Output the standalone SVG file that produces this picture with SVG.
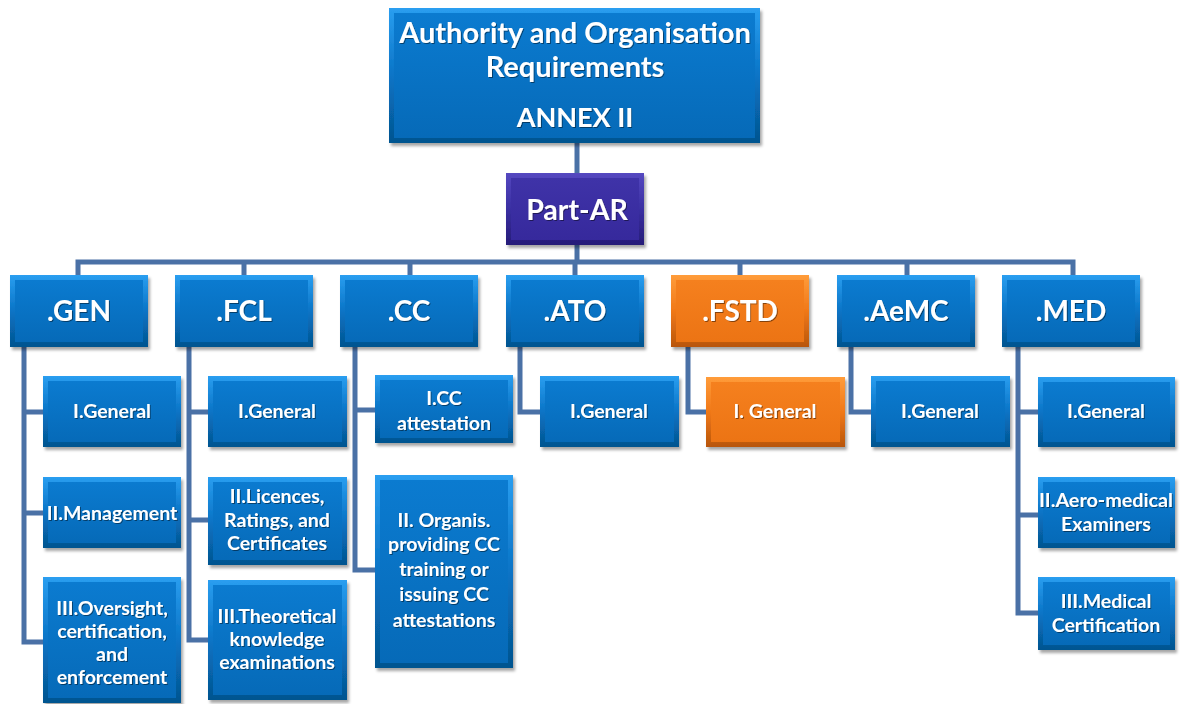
<svg xmlns="http://www.w3.org/2000/svg" width="1180" height="704" viewBox="0 0 1180 704">
<defs>
<linearGradient id="gb" x1="0" y1="0" x2="0" y2="1"><stop offset="0" stop-color="#2a9ef0"/><stop offset="0.5" stop-color="#0a74c6"/><stop offset="1" stop-color="#04548f"/></linearGradient>
<linearGradient id="gbi" x1="0" y1="0" x2="0" y2="1"><stop offset="0" stop-color="#0b7bd0"/><stop offset="1" stop-color="#066ab8"/></linearGradient>
<linearGradient id="go" x1="0" y1="0" x2="0" y2="1"><stop offset="0" stop-color="#ff9c3a"/><stop offset="0.5" stop-color="#f07818"/><stop offset="1" stop-color="#b8560c"/></linearGradient>
<linearGradient id="goi" x1="0" y1="0" x2="0" y2="1"><stop offset="0" stop-color="#f5801e"/><stop offset="1" stop-color="#ec7414"/></linearGradient>
<linearGradient id="gp" x1="0" y1="0" x2="0" y2="1"><stop offset="0" stop-color="#5548c0"/><stop offset="0.5" stop-color="#3a2fa2"/><stop offset="1" stop-color="#261c78"/></linearGradient>
<linearGradient id="gpi" x1="0" y1="0" x2="0" y2="1"><stop offset="0" stop-color="#3f33a8"/><stop offset="1" stop-color="#36299c"/></linearGradient>
<filter id="sh" x="-10%" y="-10%" width="130%" height="140%"><feDropShadow dx="2" dy="3" stdDeviation="1.5" flood-color="#000" flood-opacity="0.35"/></filter>
<filter id="ts" x="-10%" y="-10%" width="120%" height="130%"><feDropShadow dx="1" dy="1" stdDeviation="0.6" flood-color="#000" flood-opacity="0.45"/></filter>
</defs>
<style>
.b{fill:url(#gb);filter:url(#sh)}
.bi{fill:url(#gbi)}
.o{fill:url(#go);filter:url(#sh)}
.oi{fill:url(#goi)}
.p{fill:url(#gp);filter:url(#sh)}
.pi{fill:url(#gpi)}
text{font-family:Lato,"Liberation Sans",Arial,sans-serif;font-weight:bold;fill:#fff;text-anchor:middle;filter:url(#ts)}
.t1{font-size:29px}
.t1b{font-size:27px}
.t2{font-size:28.5px}
.t3{font-size:28px}
.t4{font-size:19.5px}
.c{fill:none;stroke:#4a71a6;stroke-width:5;stroke-linejoin:miter}
</style>
<rect width="1180" height="704" fill="#fff"/>
<g id="connectors">
<path class="c" d="M577,143V173"/>
<path class="c" d="M577,245V262"/>
<path class="c" d="M78,275V262H1073V275"/>
<path class="c" d="M244,262V275M410,262V275M575,262V275M740,262V275M907,262V275"/>
<path class="c" d="M24,347V642H44M24,412H44M24,513H44"/>
<path class="c" d="M189,347V640H209M189,412H209M189,520H209"/>
<path class="c" d="M355,347V570H376M355,410H376"/>
<path class="c" d="M520,347V412H541"/>
<path class="c" d="M688,347V412H707"/>
<path class="c" d="M851,347V412H872"/>
<path class="c" d="M1018,347V613H1038M1018,412H1038M1018,515H1038"/>
</g>
<g id="n-top"><rect class="b" x="389" y="8" width="371" height="135"/><rect class="bi" x="394" y="13" width="361" height="125"/>
<text class="t1" x="575" y="43">Authority and Organisation</text><text class="t1" x="575" y="77">Requirements</text><text class="t1b" x="575" y="127">ANNEX II</text></g>
<g id="n-partar"><rect class="p" x="506" y="173" width="138" height="72"/><rect class="pi" x="511" y="178" width="128" height="62"/><text class="t2" x="577" y="220">Part-AR</text></g>

<g id="n-gen"><rect class="b" x="10" y="275" width="138" height="72"/><rect class="bi" x="15" y="280" width="128" height="62"/><text class="t3" x="79" y="321">.GEN</text></g>
<g id="n-fcl"><rect class="b" x="175" y="275" width="138" height="72"/><rect class="bi" x="180" y="280" width="128" height="62"/><text class="t3" x="244" y="321">.FCL</text></g>
<g id="n-cc"><rect class="b" x="340" y="275" width="138" height="72"/><rect class="bi" x="345" y="280" width="128" height="62"/><text class="t3" x="409" y="321">.CC</text></g>
<g id="n-ato"><rect class="b" x="506" y="275" width="138" height="72"/><rect class="bi" x="511" y="280" width="128" height="62"/><text class="t3" x="575" y="321">.ATO</text></g>
<g id="n-fstd"><rect class="o" x="671" y="275" width="138" height="72"/><rect class="oi" x="676" y="280" width="128" height="62"/><text class="t3" x="740" y="321">.FSTD</text></g>
<g id="n-aemc"><rect class="b" x="837" y="275" width="138" height="72"/><rect class="bi" x="842" y="280" width="128" height="62"/><text class="t3" x="906" y="321">.AeMC</text></g>
<g id="n-med"><rect class="b" x="1002" y="275" width="138" height="72"/><rect class="bi" x="1007" y="280" width="128" height="62"/><text class="t3" x="1071" y="321">.MED</text></g>

<g id="n-gen1"><rect class="b" x="43" y="376" width="138" height="71"/><rect class="bi" x="48" y="381" width="128" height="61"/><text class="t4" x="112" y="418">I.General</text></g>
<g id="n-gen2"><rect class="b" x="43" y="477" width="138" height="71"/><rect class="bi" x="48" y="482" width="128" height="61"/><text class="t4" x="112" y="520">II.Management</text></g>
<g id="n-gen3"><rect class="b" x="43" y="577" width="138" height="126"/><rect class="bi" x="48" y="582" width="128" height="116"/>
<text class="t4" x="112" y="615">III.Oversight,</text><text class="t4" x="112" y="638">certification,</text><text class="t4" x="112" y="661">and</text><text class="t4" x="112" y="684">enforcement</text></g>

<g id="n-fcl1"><rect class="b" x="208" y="376" width="139" height="71"/><rect class="bi" x="213" y="381" width="129" height="61"/><text class="t4" x="277" y="418">I.General</text></g>
<g id="n-fcl2"><rect class="b" x="208" y="477" width="139" height="88"/><rect class="bi" x="213" y="482" width="129" height="78"/>
<text class="t4" x="277" y="503">II.Licences,</text><text class="t4" x="277" y="527">Ratings,  and</text><text class="t4" x="277" y="550">Certificates</text></g>
<g id="n-fcl3"><rect class="b" x="208" y="580" width="139" height="120"/><rect class="bi" x="213" y="585" width="129" height="110"/>
<text class="t4" x="277" y="623">III.Theoretical</text><text class="t4" x="277" y="646">knowledge</text><text class="t4" x="277" y="669">examinations</text></g>

<g id="n-cc1"><rect class="b" x="375" y="375" width="138" height="68"/><rect class="bi" x="380" y="380" width="128" height="58"/>
<text class="t4" x="444" y="405">I.CC</text><text class="t4" x="444" y="430">attestation</text></g>
<g id="n-cc2"><rect class="b" x="375" y="475" width="138" height="193"/><rect class="bi" x="380" y="480" width="128" height="183"/>
<text class="t4" x="444" y="527">II. Organis.</text><text class="t4" x="444" y="551">providing CC</text><text class="t4" x="444" y="576">training or</text><text class="t4" x="444" y="601">issuing CC</text><text class="t4" x="444" y="627">attestations</text></g>

<g id="n-ato1"><rect class="b" x="540" y="376" width="139" height="71"/><rect class="bi" x="545" y="381" width="129" height="61"/><text class="t4" x="609" y="418">I.General</text></g>
<g id="n-fstd1"><rect class="o" x="706" y="377" width="139" height="70"/><rect class="oi" x="711" y="382" width="129" height="60"/><text class="t4" x="775" y="418">I. General</text></g>
<g id="n-aemc1"><rect class="b" x="871" y="376" width="139" height="71"/><rect class="bi" x="876" y="381" width="129" height="61"/><text class="t4" x="940" y="418">I.General</text></g>

<g id="n-med1"><rect class="b" x="1038" y="377" width="137" height="70"/><rect class="bi" x="1043" y="382" width="127" height="60"/><text class="t4" x="1106" y="418">I.General</text></g>
<g id="n-med2"><rect class="b" x="1038" y="477" width="137" height="71"/><rect class="bi" x="1043" y="482" width="127" height="61"/>
<text class="t4" x="1106" y="507" textLength="134" lengthAdjust="spacingAndGlyphs">II.Aero-medical</text><text class="t4" x="1106" y="531">Examiners</text></g>
<g id="n-med3"><rect class="b" x="1038" y="577" width="137" height="73"/><rect class="bi" x="1043" y="582" width="127" height="63"/>
<text class="t4" x="1106" y="608">III.Medical</text><text class="t4" x="1106" y="632">Certification</text></g>
</svg>
